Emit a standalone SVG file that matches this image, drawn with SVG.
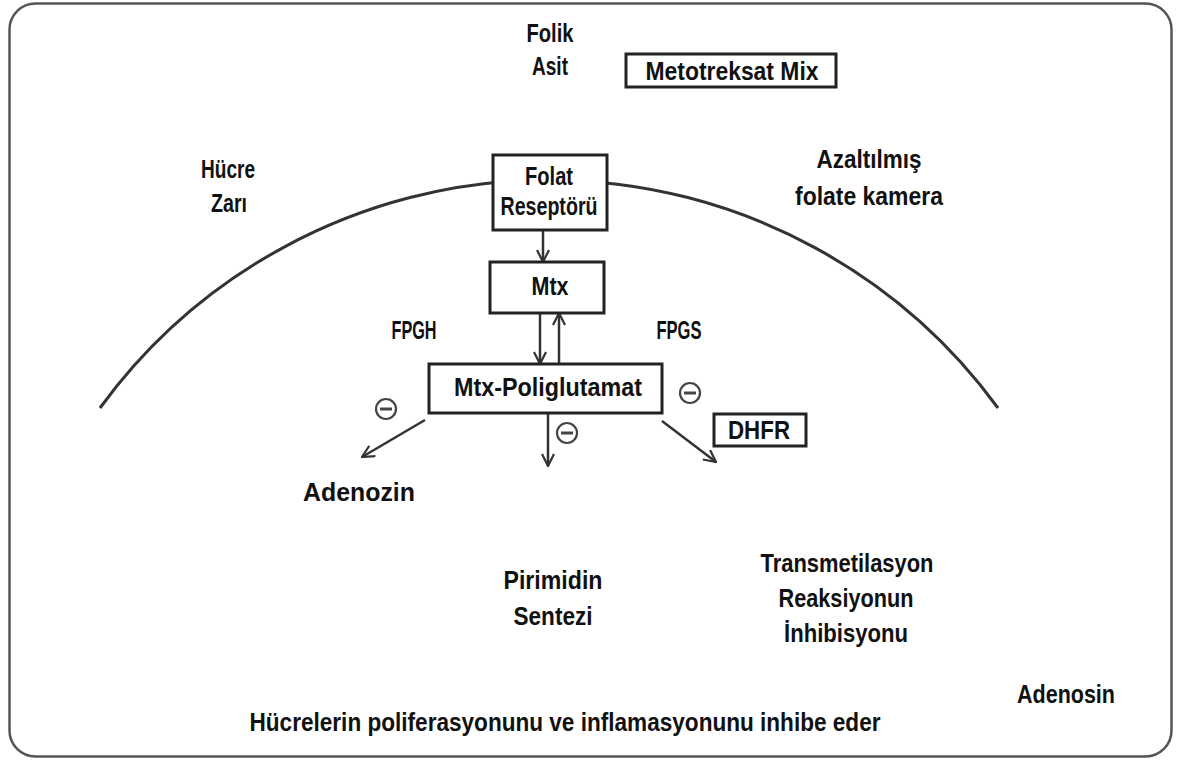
<svg xmlns="http://www.w3.org/2000/svg" width="1190" height="760" viewBox="0 0 1190 760">
<defs>
<style>
text{font-family:"Liberation Sans",Arial,sans-serif;font-weight:bold;font-size:25px;fill:#111;text-anchor:middle}
.box{fill:#fff;stroke:#222;stroke-width:3}
.conn{stroke:#333;stroke-width:2.5;fill:none}
.minus circle{fill:#fff;stroke:#444;stroke-width:2.2}
.minus line{stroke:#444;stroke-width:3}
</style>
<marker id="ah" viewBox="0 0 14 14" refX="13" refY="7" markerWidth="14" markerHeight="14" markerUnits="userSpaceOnUse" orient="auto">
<path d="M1,1 L13,7 L1,13" fill="none" stroke="#333" stroke-width="2.2"/>
</marker>
</defs>
<rect x="0" y="0" width="1190" height="760" fill="#fff"/>
<rect x="9.5" y="3.5" width="1162" height="753" rx="26" fill="#fff" stroke="#555" stroke-width="2.5"/>
<path d="M100,408 A556,556 0 0 1 998,408" fill="none" stroke="#333" stroke-width="3"/>

<g id="connectors">
<line class="conn" x1="543" y1="231" x2="543" y2="262" marker-end="url(#ah)"/>
<line class="conn" x1="540" y1="313" x2="540" y2="364" marker-end="url(#ah)"/>
<line class="conn" x1="559" y1="364" x2="559" y2="313" marker-end="url(#ah)"/>
<line class="conn" x1="425" y1="420" x2="362" y2="457" marker-end="url(#ah)"/>
<line class="conn" x1="548" y1="414" x2="548" y2="466" marker-end="url(#ah)"/>
<line class="conn" x1="662" y1="421" x2="716" y2="462" marker-end="url(#ah)"/>
</g>

<g id="folik-asit"><text x="550" y="42" textLength="47" lengthAdjust="spacingAndGlyphs">Folik</text><text x="550" y="75" textLength="36" lengthAdjust="spacingAndGlyphs">Asit</text></g>
<g id="metotreksat-mix"><rect class="box" x="626" y="54" width="210" height="33"/><text x="732" y="80" textLength="173" lengthAdjust="spacingAndGlyphs">Metotreksat Mix</text></g>
<g id="hucre-zari"><text x="228" y="178" textLength="54" lengthAdjust="spacingAndGlyphs">Hücre</text><text x="229" y="212" textLength="36" lengthAdjust="spacingAndGlyphs">Zarı</text></g>
<g id="azaltilmis"><text x="869" y="168" textLength="105" lengthAdjust="spacingAndGlyphs">Azaltılmış</text><text x="869" y="205" textLength="148" lengthAdjust="spacingAndGlyphs">folate kamera</text></g>
<g id="folat-reseptoru"><rect class="box" x="493" y="155" width="114" height="75"/><text x="549" y="185" textLength="48" lengthAdjust="spacingAndGlyphs">Folat</text><text x="549" y="215" textLength="97" lengthAdjust="spacingAndGlyphs">Reseptörü</text></g>
<g id="mtx"><rect class="box" x="490" y="262" width="114" height="51"/><text x="550" y="295" textLength="37" lengthAdjust="spacingAndGlyphs">Mtx</text></g>
<g id="fpgh"><text x="414" y="339" textLength="45" lengthAdjust="spacingAndGlyphs">FPGH</text></g>
<g id="fpgs"><text x="679" y="339" textLength="45" lengthAdjust="spacingAndGlyphs">FPGS</text></g>
<g id="mtx-poliglutamat"><rect class="box" x="429" y="364" width="233" height="49"/><text x="548" y="396" textLength="188" lengthAdjust="spacingAndGlyphs">Mtx-Poliglutamat</text></g>
<g id="dhfr"><rect class="box" x="714" y="414" width="92" height="32"/><text x="759" y="439" textLength="62" lengthAdjust="spacingAndGlyphs">DHFR</text></g>
<g class="minus" id="minus1"><circle cx="386" cy="409" r="10"/><line x1="380" y1="409" x2="392" y2="409"/></g>
<g class="minus" id="minus2"><circle cx="567" cy="433" r="10"/><line x1="561" y1="433" x2="573" y2="433"/></g>
<g class="minus" id="minus3"><circle cx="690" cy="393" r="10"/><line x1="684" y1="393" x2="696" y2="393"/></g>
<g id="adenozin"><text x="359" y="501" textLength="112" lengthAdjust="spacingAndGlyphs">Adenozin</text></g>
<g id="pirimidin"><text x="553" y="589" textLength="99" lengthAdjust="spacingAndGlyphs">Pirimidin</text><text x="553" y="625" textLength="79" lengthAdjust="spacingAndGlyphs">Sentezi</text></g>
<g id="transmetilasyon"><text x="847" y="572" textLength="173" lengthAdjust="spacingAndGlyphs">Transmetilasyon</text><text x="846" y="607" textLength="135" lengthAdjust="spacingAndGlyphs">Reaksiyonun</text><text x="846" y="642" textLength="124" lengthAdjust="spacingAndGlyphs">İnhibisyonu</text></g>
<g id="adenosin"><text x="1066" y="703" textLength="98" lengthAdjust="spacingAndGlyphs">Adenosin</text></g>
<g id="sonuc"><text x="565" y="731" textLength="631" lengthAdjust="spacingAndGlyphs">Hücrelerin poliferasyonunu ve inflamasyonunu inhibe eder</text></g>
</svg>
